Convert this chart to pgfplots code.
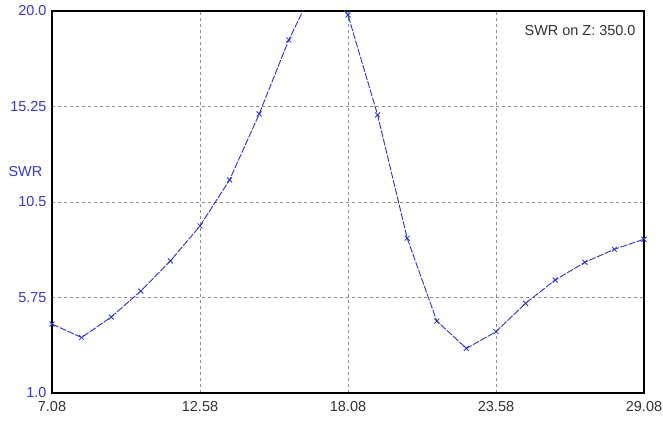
\documentclass[border=0pt]{standalone}
\usepackage{fontspec}
\setmainfont{Liberation Sans}
\usepackage{pgfplots}
\pgfplotsset{compat=1.18}
\definecolor{swrblue}{RGB}{45,45,205}
\definecolor{lblblue}{RGB}{55,55,200}
\definecolor{lblgray}{RGB}{50,50,50}
\definecolor{gridgray}{RGB}{140,140,140}
\begin{document}
\begin{tikzpicture}
\useasboundingbox (-52bp,-32bp) rectangle (611bp,393bp);
\begin{axis}[
  at={(0,0)}, anchor=south west,
  scale only axis, width=592bp, height=382bp,
  xmin=7.08, xmax=29.08, ymin=1.0, ymax=20.0,
  xtick={7.08,12.58,18.08,23.58,29.08},
  xticklabels={7.08,12.58,18.08,23.58,29.08},
  ytick={1.0,5.75,10.5,15.25,20.0},
  yticklabels={1.0,5.75,10.5,15.25,20.0},
  tick style={draw=none},
  grid=major,
  major grid style={gridgray, line width=0.8pt, dash pattern=on 3bp off 3bp},
  axis line style={black, line width=1.1pt},
  xticklabel style={font=\fontsize{14.5}{16}\selectfont, text=lblgray, yshift=-5bp},
  yticklabel style={font=\fontsize{14.5}{16}\selectfont, text=lblblue, xshift=-2bp},
  clip mode=individual,
]
\addplot[swrblue, line width=0.9pt, dash pattern=on 7bp off 1.5bp, mark=x, mark size=3.5bp, mark options={solid, line width=0.8pt}] coordinates {
(7.08,4.43) (8.18,3.76) (9.28,4.78) (10.38,6.07) (11.48,7.57) (12.58,9.31)
(13.68,11.6) (14.78,14.88) (15.88,18.56) (16.98,21.6) (18.08,19.8)
(19.18,14.83) (20.28,8.70) (21.38,4.58) (22.48,3.22) (23.58,4.05)
(24.68,5.46) (25.78,6.62) (26.88,7.50) (27.98,8.15) (29.08,8.65)
};
\node[anchor=east, text=lblgray, font=\fontsize{14.5}{16}\selectfont] at ([xshift=-5bp,yshift=-19.5bp]rel axis cs:1,1) {SWR on Z: 350.0};
\node[anchor=west, text=lblblue, font=\fontsize{14.5}{16}\selectfont] at ([xshift=-47bp]rel axis cs:0,0.579) {SWR};
\end{axis}
\end{tikzpicture}
\end{document}
